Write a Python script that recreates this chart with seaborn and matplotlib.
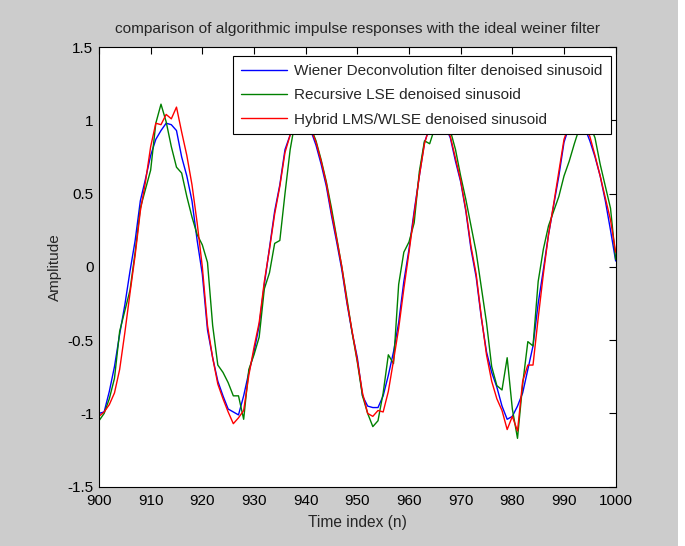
import numpy as np
import pandas as pd
import matplotlib
matplotlib.use("Agg")
import matplotlib.pyplot as plt
import matplotlib.ticker as mticker
from matplotlib.patches import Rectangle
import seaborn as sns

n_index = list(range(900, 1001))

wiener = [
    -1.00, -0.99, -0.85, -0.68, -0.46, -0.26, -0.03, 0.18, 0.45, 0.60,
    0.76, 0.87, 0.93, 0.98, 0.97, 0.93, 0.75, 0.62, 0.45, 0.18,
    -0.05, -0.43, -0.62, -0.78, -0.88, -0.97, -0.99, -1.01, -0.88, -0.72,
    -0.58, -0.40, -0.12, 0.13, 0.38, 0.56, 0.80, 0.90, 0.97, 1.00,
    0.99, 0.93, 0.83, 0.70, 0.55, 0.35, 0.17, -0.02, -0.25, -0.45,
    -0.62, -0.88, -0.95, -0.96, -0.96, -0.88, -0.74, -0.58, -0.38, -0.10,
    0.12, 0.38, 0.62, 0.85, 0.95, 1.00, 1.00, 0.96, 0.88, 0.72,
    0.58, 0.38, 0.12, -0.07, -0.35, -0.58, -0.72, -0.82, -0.95, -1.04,
    -1.02, -0.95, -0.86, -0.70, -0.54, -0.25, -0.02, 0.22, 0.42, 0.62,
    0.85, 0.96, 1.00, 1.00, 0.95, 0.86, 0.75, 0.62, 0.45, 0.25,
    0.04,
]

recursive_lse = [
    -1.05, -1.00, -0.90, -0.76, -0.44, -0.30, -0.16, 0.10, 0.40, 0.53,
    0.66, 0.98, 1.11, 0.99, 0.82, 0.68, 0.64, 0.48, 0.34, 0.22,
    0.15, 0.03, -0.40, -0.67, -0.72, -0.79, -0.88, -0.88, -1.04, -0.70,
    -0.60, -0.48, -0.15, -0.04, 0.16, 0.18, 0.50, 0.80, 1.00, 1.05,
    1.02, 0.95, 0.86, 0.73, 0.58, 0.40, 0.20, 0.00, -0.22, -0.45,
    -0.65, -0.88, -1.00, -1.09, -1.05, -0.86, -0.60, -0.66, -0.12, 0.10,
    0.17, 0.30, 0.65, 0.86, 0.84, 0.95, 1.02, 1.00, 0.93, 0.80,
    0.62, 0.46, 0.28, 0.10, -0.14, -0.38, -0.68, -0.81, -0.84, -0.62,
    -0.97, -1.17, -0.80, -0.51, -0.54, -0.10, 0.12, 0.28, 0.38, 0.48,
    0.62, 0.72, 0.84, 0.95, 1.00, 0.97, 0.88, 0.70, 0.55, 0.40,
    0.05,
]

hybrid = [
    -1.02, -0.99, -0.94, -0.86, -0.70, -0.45, -0.18, 0.08, 0.38, 0.58,
    0.82, 0.98, 0.97, 1.04, 1.01, 1.09, 0.92, 0.76, 0.56, 0.30,
    0.00, -0.40, -0.62, -0.80, -0.90, -0.99, -1.07, -1.03, -0.98, -0.74,
    -0.55, -0.38, -0.10, 0.12, 0.36, 0.55, 0.78, 0.90, 0.97, 1.00,
    1.00, 0.94, 0.85, 0.72, 0.57, 0.37, 0.19, 0.00, -0.24, -0.44,
    -0.64, -0.86, -1.00, -1.02, -0.98, -0.99, -0.85, -0.64, -0.42, -0.15,
    0.10, 0.36, 0.62, 0.84, 0.96, 1.00, 1.00, 0.97, 0.89, 0.74,
    0.59, 0.39, 0.14, -0.05, -0.34, -0.60, -0.78, -0.90, -0.98, -1.11,
    -1.02, -1.12, -0.78, -0.67, -0.67, -0.35, -0.05, 0.22, 0.43, 0.65,
    0.87, 0.97, 1.00, 1.00, 0.96, 0.89, 0.76, 0.62, 0.47, 0.32,
    0.10,
]

series_names = [
    "Wiener Deconvolution filter denoised sinusoid",
    "Recursive LSE denoised sinusoid",
    "Hybrid LMS/WLSE denoised sinusoid",
]
series_colors = ["#0000ff", "#008000", "#ff0000"]

x_ticks = list(range(900, 1001, 10))
y_ticks = [-1.5, -1.0, -0.5, 0.0, 0.5, 1.0, 1.5]

df = pd.concat([
    pd.DataFrame({"n": n_index, "Amplitude": vals, "series": name})
    for name, vals in zip(series_names, [wiener, recursive_lse, hybrid])
], ignore_index=True)

sns.set_style("white")
plt.rcParams["font.family"] = ["Liberation Sans", "DejaVu Sans"]

fig = plt.figure(figsize=(6.85, 5.46), dpi=100, facecolor="#cccccc")
fig.patches.append(Rectangle((0.9898, 0), 0.0102, 1, transform=fig.transFigure,
                             facecolor="white", edgecolor="none", zorder=-1))
ax = fig.add_axes([0.1445, 0.1086, 0.8988 - 0.1445, 0.9139 - 0.1086])
ax.set_facecolor("white")

sns.lineplot(data=df, x="n", y="Amplitude", hue="series", hue_order=series_names,
             palette=series_colors, linewidth=1.0, ax=ax, legend=True)

ax.set_xlim(900, 1000)
ax.set_ylim(-1.5, 1.5)
ax.set_xticks(x_ticks)
ax.set_yticks(y_ticks)
ax.yaxis.set_major_formatter(mticker.FuncFormatter(lambda v, p: f"{v:g}"))
ax.tick_params(direction="in", length=5, width=0.8, top=True, right=True,
               labelsize=11, colors="black")
ax.tick_params(axis="x", pad=5)
ax.tick_params(axis="y", pad=4)
for s in ax.spines.values():
    s.set_visible(True)
    s.set_color("black")
    s.set_linewidth(0.8)

ax.set_xlabel("Time index (n)", fontsize=11.2, labelpad=5)
ax.set_ylabel("Amplitude", fontsize=11, labelpad=4)
ax.set_title("comparison of algorithmic impulse responses with the ideal weiner filter",
             fontsize=11.1, pad=10)

leg = ax.legend(loc="upper right", bbox_to_anchor=(0.99, 0.979), frameon=True,
                fancybox=False, framealpha=1, edgecolor="black", fontsize=11,
                handlelength=3.0, borderpad=0.5, labelspacing=0.68,
                handletextpad=0.5, borderaxespad=0)
leg.get_frame().set_linewidth(0.8)

fig.savefig("out.png", dpi=100, facecolor=fig.get_facecolor())
